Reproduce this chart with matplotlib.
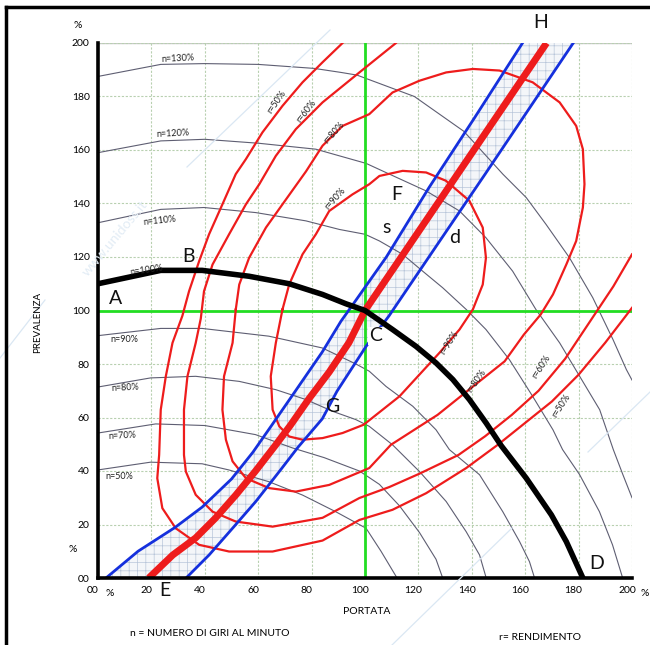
import matplotlib.pyplot as plt
from matplotlib.lines import Line2D
from matplotlib.patches import Polygon
from matplotlib.transforms import ScaledTranslation

plt.rcParams['font.family'] = ['Lato', 'DejaVu Sans']
plt.rcParams['hatch.linewidth'] = 0.5

# pump curves at different speeds (n), portata Q % -> prevalenza H %
n130_q = [0, 23.5, 40, 60, 81, 91, 97, 118.5, 137, 151.6, 160.4, 167.8, 176.6, 185.3, 192.9, 197.9, 200]
n130_h = [187.5, 192, 192.3, 192, 190.5, 189, 188, 180, 167, 151, 142.2, 132.2, 119.7, 104.8, 89.1, 77.9, 74]
n120_q = [0, 23.5, 40, 60.4, 81.6, 100.4, 109.1, 122.9, 135.4, 145.3, 155.3, 164, 172.9, 180.4, 187.9, 193, 196.6, 200]
n120_h = [159, 163.4, 164, 162.5, 160.3, 155, 151, 144.7, 137.2, 127.2, 114.7, 100.4, 87.9, 75.4, 62.9, 48, 38.6, 30]
n110_q = [0, 23.5, 39.7, 59.1, 77.9, 90.4, 100, 105.4, 114.1, 121.6, 129.1, 137.9, 145.3, 154.1, 162.8, 170.4, 174, 180.4, 187.8, 192.7, 196.5]
n110_h = [132.8, 137.8, 138.5, 136.6, 133.5, 130.3, 128.5, 126, 121, 114.7, 108.5, 100.4, 92.9, 81.6, 67.9, 55.4, 48, 38.6, 24.8, 12.4, 0]
n100_q = [0, 23.5, 39, 56.6, 71.6, 84.1, 92.9, 100, 110.3, 119.1, 126.6, 132.9, 139.1, 145.4, 151, 160.4, 169.8, 175.4, 181.6]
n100_h = [110, 115, 115, 112.8, 110, 106, 102.5, 100, 92.9, 86.6, 80.4, 74.2, 66.7, 57.9, 49.5, 37.3, 23.6, 13.6, 0]
n90_q = [0, 23.5, 39, 64, 84, 96.6, 101.6, 107.9, 117.9, 126.6, 131.6, 142.9, 151.6, 157.9, 161.6, 163.5]
n90_h = [90.6, 93.3, 93.3, 90.4, 86, 80, 77.3, 71.6, 64.2, 55.4, 48, 38.6, 24.8, 13.6, 6.1, 0]
n80_q = [0, 19.7, 36.6, 52.9, 66.6, 77.9, 87.9, 96.6, 101.6, 110.3, 120.4, 130.4, 137.9, 142.9, 145.4]
n80_h = [71.4, 74.8, 75.4, 73.5, 70.4, 66.7, 62.3, 59.2, 56.7, 49.8, 39.8, 28.6, 17.3, 8.6, 0]
n70_q = [0, 21.6, 40, 59, 72.9, 84.7, 97.9, 105.4, 112.9, 120.4, 126.6, 129.1]
n70_h = [54.2, 57.6, 57, 53.6, 48.6, 45, 40, 35, 27, 17, 7, 0]
n50_q = [0, 19.7, 39, 49, 64, 76.6, 89, 100.4, 106, 112]
n50_h = [40.4, 43.3, 42.7, 40.4, 36, 31, 24.8, 18.6, 10, 0]

# efficiency curves (r)
r50_q = [91.6, 84.1, 76.6, 69.1, 61.6, 55.4, 51.6, 46.6, 41.6, 37.9, 34.1, 31.6, 27.9, 25.4, 23.5, 22.9,
         22.2, 24.1, 29.1, 37.9, 49.1, 65.4, 84.1, 97.9, 110.3, 122.9, 137.9, 150, 160, 170, 180, 190, 200]
r50_h = [200, 192.8, 185.3, 176.5, 166.6, 156.6, 151, 139.7, 128.5, 118.5, 107.2, 98, 87.9, 75.4, 62.9, 46,
         37.3, 26.1, 18.6, 12.4, 9.9, 9.9, 14, 21.7, 25.5, 31.7, 41.1, 50, 58, 66, 76, 88, 101]
r60_q = [111.6, 97.9, 84.1, 74.1, 66.6, 60.4, 55.4, 49.1, 42.9, 39.7, 38.5, 36.6, 33.5, 32.2, 32.2, 32.9,
         36.6, 42.9, 51.6, 65.4, 84.1, 97.9, 109.1, 120.4, 135, 145, 155, 165, 175, 185, 193, 200]
r60_h = [200, 189, 177.8, 167.8, 157.8, 147.2, 139.7, 128.5, 117.2, 107.2, 97, 87.9, 75.4, 62.9, 46, 39.8,
         31.1, 24.8, 21.1, 19.2, 22.5, 29.9, 34, 39, 46, 53, 61, 70, 82, 97, 109, 121]
r80_q = [51.6, 52.9, 56.6, 62.9, 69.1, 77.9, 84.1, 91.6, 101.6, 110.3, 120.4, 130.4, 140.4, 150.4, 162.8,
         172.9, 179.1, 181.6, 182.2, 181.6, 179.1, 175.4, 170.4, 165.8, 159.5, 152.3, 139.7, 127.2, 109.7,
         101.6, 86.6, 74.1, 64.1, 55.4, 50.4, 47.9, 46.6, 47.2, 50.4, 51.6]
r80_h = [100.4, 109.7, 119.7, 131, 139.7, 152, 161.6, 169, 173.4, 181.5, 185.9, 189, 190.3, 189.7, 185.3,
         177.8, 169, 160.3, 147.2, 138.5, 126, 117.2, 106, 98.5, 91, 81, 71, 61, 49.8,
         41.1, 34.8, 32.3, 33.6, 37.3, 43.6, 51.7, 62.9, 75.4, 87.9, 100.4]
r90_q = [69.1, 71.6, 76.6, 81.6, 86.6, 95.3, 101.6, 105.4, 114.1, 122.9, 130.3, 139.1, 144.1, 145.3, 144.1,
         140.4, 135.4, 127.9, 112.9, 99.5, 91.6, 84.1, 76.6, 71.6, 67.9, 65.4, 64.7, 66.6, 69.1]
r90_h = [100.4, 109.7, 121, 128.5, 137.2, 143.4, 147.2, 150.3, 152.2, 151.6, 148.5, 141, 131, 119.7, 109.7,
         100.4, 92.9, 84.2, 67.9, 57.3, 54.2, 52.3, 51.7, 52.9, 56.7, 62.9, 75.4, 87.9, 100.4]

# system curve E-H and its band s / d
eh_q = [19, 28, 36.6, 44, 51.6, 59, 66.6, 72, 79, 86.6, 94, 100, 134, 168]
eh_h = [0, 8.6, 15, 22.4, 31, 40, 49.8, 57, 67, 77, 88, 100, 150, 200]
s_q = [3, 15, 29, 39, 50, 58, 65, 74, 84, 91, 96, 108, 124, 141, 159]
s_h = [0, 10, 19, 26.5, 37, 47, 57, 70, 84.5, 96, 103, 120, 146, 172, 200]
d_q = [33, 41.6, 50.4, 59.1, 67.9, 75, 84, 89.5, 100.4, 109, 128, 145, 178]
d_h = [0, 8.6, 18.6, 28.6, 39.8, 49, 59.5, 69.8, 86.6, 98, 126, 151, 200]

ticks = list(range(0, 201, 20))
tick_labels = ['00'] + [str(t) for t in ticks[1:]]

fig = plt.figure(figsize=(6.5, 6.45), dpi=100)
ax = fig.add_axes([98 / 650, 67 / 645, 534 / 650, 535 / 645])
ax.set_xlim(0, 200)
ax.set_ylim(0, 200)

ax.set_xticks(ticks)
ax.set_xticklabels(tick_labels, fontsize=7.5)
ax.set_yticks(ticks)
ax.set_yticklabels(tick_labels, fontsize=7.5)
ax.tick_params(length=0, pad=6)
shift = ScaledTranslation(-5 / 100, 0, fig.dpi_scale_trans)
for lab in ax.get_xticklabels():
    lab.set_transform(lab.get_transform() + shift)
ax.grid(color='#b8d0b0', linestyle=(0, (2, 1.5)), linewidth=0.8)

for side in ['top', 'right']:
    ax.spines[side].set_visible(False)
ax.axhline(200, color='#c8c8c8', lw=1, zorder=1)
for side in ['left', 'bottom']:
    ax.spines[side].set_linewidth(2.6)
    ax.spines[side].set_zorder(10)

# band between s and d
band = Polygon(list(zip(s_q, s_h)) + list(zip(d_q[::-1], d_h[::-1])), closed=True,
               facecolor='#f4f6f9', edgecolor='#b9c6da', hatch='++', lw=0, zorder=2)
ax.add_patch(band)

gray = '#5e5e72'
for q, h in [(n130_q, n130_h), (n120_q, n120_h), (n110_q, n110_h), (n90_q, n90_h),
             (n80_q, n80_h), (n70_q, n70_h), (n50_q, n50_h)]:
    ax.plot(q, h, color=gray, lw=0.8, zorder=3)

ax.axvline(100, color='#22dd22', lw=2, zorder=3.5)
ax.axhline(100, color='#22dd22', lw=2, zorder=3.5)

red = '#ee1c1c'
for q, h in [(r50_q, r50_h), (r60_q, r60_h), (r80_q, r80_h), (r90_q, r90_h)]:
    ax.plot(q, h, color=red, lw=1.6, zorder=4)

ax.plot(s_q, s_h, color='#1530dd', lw=2, zorder=4.2)
ax.plot(d_q, d_h, color='#1530dd', lw=2, zorder=4.2)
ax.plot(eh_q, eh_h, color=red, lw=5, zorder=4.5, solid_capstyle='butt')
ax.plot(n100_q, n100_h, color='black', lw=4, zorder=6)

# n labels
for txt, x, y, rot in [('n=130%', 30, 194, 3), ('n=120%', 28, 166, 3), ('n=110%', 23, 133.5, 6),
                       ('n=100%', 18, 115, 8), ('n=90%', 10, 89, 0), ('n=80%', 10, 71, 3),
                       ('n=70%', 9, 53, 3), ('n=50%', 8, 38, 0)]:
    ax.text(x, y, txt, fontsize=6.5, color='#222222', rotation=rot, ha='center', va='center', zorder=7)

# r labels
for txt, x, y, rot in [('r=50%', 67, 178, 55), ('r=60%', 78, 174.5, 52), ('r=80%', 88.5, 166.5, 48),
                       ('r=90%', 89, 142, 48), ('r=90%', 131.5, 88, 57), ('r=80%', 142, 73.5, 55),
                       ('r=60%', 166, 79, 57), ('r=50%', 173.5, 64.5, 57)]:
    ax.text(x, y, txt, fontsize=6.5, color='#222222', rotation=rot, ha='center', va='center', zorder=7)

# point letters
for txt, x, y in [('A', 6.7, 104.5), ('B', 34, 120), ('F', 112, 143.5), ('s', 107.9, 131),
                  ('d', 133.5, 127.3), ('G', 87.8, 64), ('D', 186.6, 5.5)]:
    ax.text(x, y, txt, fontsize=14, color='#111111', ha='center', va='center', zorder=8)
ax.text(104, 90.5, 'C', fontsize=14, color='#111111', ha='center', va='center', zorder=5,
        bbox=dict(facecolor='white', edgecolor='none', pad=0.5))

# texts outside the axes (figure pixel coords)
def ftext(x, y, s, **kw):
    fig.text(x / 650, 1 - y / 645, s, ha='center', va='center', **kw)

ftext(541, 23, 'H', fontsize=14, color='#111111')
ftext(165, 591, 'E', fontsize=14, color='#111111')
ftext(78, 25, '%', fontsize=7.5)
ftext(73, 549, '%', fontsize=7.5)
ftext(110, 594, '%', fontsize=7.5)
ftext(645, 593, '%', fontsize=7.5)
ftext(38, 322, 'PREVALENZA', fontsize=7, rotation=90)
ftext(367, 612, 'PORTATA', fontsize=7.5)
ftext(210, 633, 'n = NUMERO DI GIRI AL MINUTO', fontsize=7.5)
ftext(540, 637, 'r= RENDIMENTO', fontsize=7.5)

# faint watermark
wm = '#dae7f3'
for (x0, y0, x1, y1) in [(187, 167, 330, 30), (0, 358, 45, 300), (392, 645, 512, 528), (588, 452, 650, 392)]:
    fig.add_artist(Line2D([x0 / 650, x1 / 650], [1 - y0 / 645, 1 - y1 / 645], color=wm, lw=0.9, zorder=0.5))
ftext(115, 238, 'www.unidoss.it', fontsize=10, color='#e2ecf5', rotation=50, zorder=0.5)

# outer frame
fig.add_artist(Line2D([6 / 650, 1], [1 - 7 / 645, 1 - 7 / 645], color='black', lw=2.5))
fig.add_artist(Line2D([6 / 650, 6 / 650], [0, 1 - 7 / 645], color='black', lw=2.5))

fig.savefig('out.png', dpi=100)
